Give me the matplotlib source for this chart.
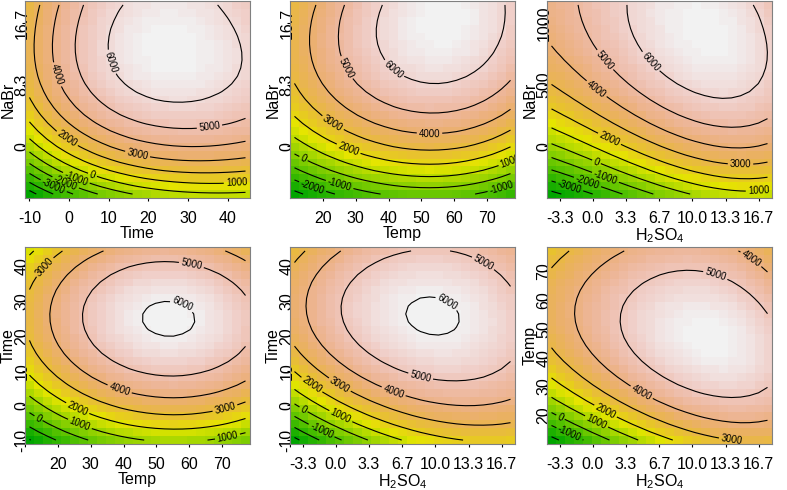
import numpy as np
import matplotlib
matplotlib.use('Agg')
import matplotlib.pyplot as plt
from matplotlib.colors import ListedColormap, hsv_to_rgb

plt.rcParams['font.family'] = 'Liberation Sans'
plt.rcParams['mathtext.fontset'] = 'custom'
plt.rcParams['mathtext.rm'] = 'Liberation Sans'
plt.rcParams['mathtext.it'] = 'Liberation Sans:italic'

# axis ranges of the four factors
time_lim = (-11.1, 45.6)
temp_lim = (10.0, 78.5)
h2so4_lim = (-4.6, 18.0)
nabr_lim = (-7.0, 19.7)
nabr_lim_big = (-420.0, 1180.0)   # third panel uses a different NaBr scale

time_ticks = [-10, 0, 10, 20, 30, 40]
temp_ticks = [20, 30, 40, 50, 60, 70]
h2so4_ticks = [-10/3, 0, 10/3, 20/3, 10, 40/3, 50/3]
h2so4_labels = ['-3.3', '0.0', '3.3', '6.7', '10.0', '13.3', '16.7']
nabr_ticks = [0, 25/3, 50/3]
nabr_labels = ['0', '8.3', '16.7']
nabr_ticks_big = [0, 500, 1000]
nabr_labels_big = ['0', '500', '1000']

tn_time = [29.7, 29.7, 29.7, 29.7, 29.7, 29.7, 29.7, 11.0, 38.2, 3.1, -1.9, -6.5,
           44.5, 44.5, 44.5, 44.5, 44.5, 44.5, 41.0, 10.7,
           -10.0, -10.0, -10.0, -10.0, -10.0, -10.0, -10.0, -10.0,
           15.0, 7.0, 1.4, -3.2, -7.7]
tn_nabr = [6.5, 2.7, 0.0, -1.8, -3.6, -5.2, -6.1, 19.2, 19.2, 19.2, 19.2, 19.2,
           3.4, 0.2, -1.7, -3.4, -4.9, -5.9, 13.0, 14.4,
           10.9, 6.5, 3.6, 1.4, -0.5, -2.3, -3.8, -5.2,
           -6.5, -6.5, -6.5, -6.5, -6.5]
tn_level = [6000, 5000, 4000, 3000, 2000, 1000, 0, 6000, 6000, 5000, 4000, 3000,
            5000, 4000, 3000, 2000, 1000, 0, 6000, 6000,
            3000, 2000, 1000, 0, -1000, -2000, -3000, -4000,
            -1000, -2000, -3000, -4000, -5000]

pn_temp = [36.0, 73.7, 56.6, 76.4, 37.1, 27.8, 54.2, 16.2, 29.5, 11.7, 11.4, 26.9,
           11.4, 54.7, 11.4, 21.9, 11.4, 77.1, 11.4, 38.8, 65.5, 77.1,
           11.4, 25.1, 11.4, 14.1]
pn_nabr = [19.2, 19.2, 9.0, 14.4, 14.4, 19.2, 5.0, 19.2, 4.5, 19.2, 8.1, 1.8,
           4.3, -2.9, 1.4, -1.1, -1.4, -3.4, -2.9, -6.5, -6.5, -5.4,
           -4.5, -6.5, -6.1, -6.5]
pn_level = [6000, 6000, 6000, 6000, 6000, 5000, 5000, 4000, 4000, 3000, 3000, 3000,
            2000, 2000, 1000, 1000, 0, 0, -1000, -1000, -1000, -1000,
            -2000, -2000, -3000, -3000]

hn_h2so4 = [3.3, 16.9, 2.0, 12.5, 17.0, 9.2, 9.5, 6.0, -1.8, 13.2, 17.5, -4.1, 14.2, 17.5,
            -4.1, 15.2, -4.1, 16.2, -3.7, -4.1, -4.1, 5.8, -4.1, 2.4,
            -4.1, 0.6, -4.1, -1.4]
hn_nabr = [1150, 1150, 892, 370, 748, 828, 1150, 1150, 1150, 153, 236, 812, -10, 28,
           534, -148, 358, -270, 124, 28, -106, -388, -215, -388,
           -311, -388, -366, -388]
hn_level = [6000, 6000, 6000, 6000, 6000, 6850, 6350, 6250, 5000, 5000, 5000, 4000, 4000, 4000,
            3000, 3000, 2000, 2000, 1000, 0, -1000, -1000, -2000, -2000,
            -3000, -3000, -4000, -4000]

pt_temp = [53.0, 53.0, 46.9, 58.9, 53.0,
           57.3, 31.6, 44.9, 58.6, 73.9,
           57.1, 29.6, 76.0, 77.1, 21.0,
           28.0, 21.4, 11.4, 11.4, 77.1,
           26.5, 14.8, 11.4, 77.1,
           45.9, 68.2, 11.4, 31.1, 11.4, 23.0, 11.4, 16.9, 11.4]
pt_time = [32.0, 22.4, 27.4, 27.5, 27.4,
           8.2, 25.5, 44.5, 44.5, 23.5,
           1.5, 43.7, 40.3, 11.0, 23.5,
           3.9, 44.5, 23.5, 11.0, -0.3,
           -0.9, 41.1, 4.2, -5.4,
           -10.0, -10.0, -0.3, -10.0, -3.2, -10.0, -6.1, -10.0, -9.0]
pt_level = [6000, 6000, 6000, 6000, 6200,
            5000, 5000, 5000, 5000, 5000,
            4000, 4000, 4000, 4000, 4000,
            3000, 3000, 3000, 3000, 3000,
            2000, 2000, 2000, 2000,
            1000, 1000, 1000, 0, 0, -1000, -1000, -2000, -2000]

ht_h2so4 = [10.9, 10.9, 7.5, 14.4, 4.2, 17.2, 5.6, 10.8, 11.2, 0.3, 14.4,
            -2.9, -4.1, 1.0, -4.1, 15.2, -4.1, 6.7, -4.1, 3.2, -4.1, 0.4, -4.1, -1.9]
ht_time = [31.9, 19.9, 26.9, 25.2, 39.5, 33.7, 44.5, 44.5, 9.3, 44.5, -1.3,
           44.5, 16.0, 5.3, 9.8, -10.0, 4.0, -10.0, -0.3, -10.0, -2.8, -10.0, -5.6, -10.0]
ht_level = [6000, 6000, 6000, 6000, 5000, 5000, 5000, 5000, 5000, 4000, 4000,
            3000, 3000, 3000, 2000, 2000, 1000, 1000, 0, 0, -1000, -1000, -2000, -2000]

hp_h2so4 = [2.7, 9.3, 16.6, 9.0, 17.5, 2.9, 3.5, 13.9, 17.5, 17.5,
            -1.7, -4.1, 16.6, -4.1, 2.0, -4.1, -1.7, -4.1, 1.3, -4.1, -1.0, -3.0, 11.9]
hp_temp = [55.2, 70.0, 60.0, 28.5, 29.9, 78.0, 30.6, 78.0, 70.3, 17.5,
           78.0, 42.2, 11.4, 32.9, 20.7, 26.4, 22.3, 20.7, 11.4, 15.5, 11.4, 11.4, 46.3]
hp_level = [5000, 5000, 5000, 5000, 5000, 4000, 4000, 4000, 4000, 4000,
            3000, 3000, 3000, 2000, 2000, 1000, 1000, 0, 0, -1000, -1000, -2000, 5800]


def terrain_colors(n):
    # same ramp as R's terrain.colors()
    k = n // 2
    h = np.r_[np.linspace(4/12, 2/12, k), np.linspace(2/12, 0, n - k + 1)[1:]]
    s = np.r_[np.ones(k), np.linspace(1, 0, n - k + 1)[1:]]
    v = np.r_[np.linspace(0.65, 0.9, k), np.linspace(0.9, 0.95, n - k + 1)[1:]]
    return ListedColormap(hsv_to_rgb(np.c_[h, s, v]))


cmap = terrain_colors(100)


def fit_surface(xs, ys, zs, xlim, ylim, degree, n=25):
    # polynomial response surface through the read contour points
    xs, ys, zs = np.asarray(xs), np.asarray(ys), np.asarray(zs, float)
    cx, sx = np.mean(xlim), (xlim[1] - xlim[0]) / 2
    cy, sy = np.mean(ylim), (ylim[1] - ylim[0]) / 2

    def design(x, y):
        a, b = (x - cx) / sx, (y - cy) / sy
        cols = [a ** i * b ** j for i in range(degree + 1)
                for j in range(degree + 1 - i)]
        return np.stack(cols, axis=-1)

    coef, *_ = np.linalg.lstsq(design(xs, ys), zs, rcond=None)
    gx = xlim[0] + (np.arange(n) + 0.5) * (xlim[1] - xlim[0]) / n
    gy = ylim[0] + (np.arange(n) + 0.5) * (ylim[1] - ylim[0]) / n
    X, Y = np.meshgrid(gx, gy)
    return gx, gy, design(X, Y) @ coef


panels = [
    (tn_time, tn_nabr, tn_level, time_lim, nabr_lim, 'Time', 'NaBr',
     time_ticks, None, nabr_ticks, nabr_labels, 3),
    (pn_temp, pn_nabr, pn_level, temp_lim, nabr_lim, 'Temp', 'NaBr',
     temp_ticks, None, nabr_ticks, nabr_labels, 3),
    (hn_h2so4, hn_nabr, hn_level, h2so4_lim, nabr_lim_big, r'H$_2$SO$_4$', 'NaBr',
     h2so4_ticks, h2so4_labels, nabr_ticks_big, nabr_labels_big, 3),
    (pt_temp, pt_time, pt_level, temp_lim, time_lim, 'Temp', 'Time',
     temp_ticks, None, time_ticks, None, 2),
    (ht_h2so4, ht_time, ht_level, h2so4_lim, time_lim, r'H$_2$SO$_4$', 'Time',
     h2so4_ticks, h2so4_labels, time_ticks, None, 3),
    (hp_h2so4, hp_temp, hp_level, h2so4_lim, temp_lim, r'H$_2$SO$_4$', 'Temp',
     h2so4_ticks, h2so4_labels, temp_ticks, None, 3),
]

W, H = 787, 490
fig = plt.figure(figsize=(W / 100, H / 100), dpi=100)
lefts = [25, 290, 547]
tops = [1, 247]
aw, ah = 225, 197

for i, (xs, ys, zs, xlim, ylim, xlab, ylab, xt, xtl, yt, ytl, deg) in enumerate(panels):
    left = lefts[i % 3]
    top = tops[i // 3]
    ax = fig.add_axes([left / W, 1 - (top + ah) / H, aw / W, ah / H])
    gx, gy, Z = fit_surface(xs, ys, zs, xlim, ylim, deg)
    ax.imshow(Z, cmap=cmap, vmin=Z.min(), vmax=Z.max(), origin='lower',
              extent=[xlim[0], xlim[1], ylim[0], ylim[1]], aspect='auto',
              interpolation='nearest')
    levels = np.arange(-10000, 10001, 1000)
    cs = ax.contour(gx, gy, Z, levels=levels, colors='black', linewidths=0.8,
                    negative_linestyles='solid')
    ax.clabel(cs, fmt=lambda v: f'{v:.0f}', fontsize=7, inline=True, inline_spacing=2)
    ax.set_xlim(xlim)
    ax.set_ylim(ylim)
    ax.set_xticks(xt)
    ax.set_xticklabels(xtl if xtl is not None else [str(t) for t in xt])
    ax.set_yticks(yt)
    ax.set_yticklabels(ytl if ytl is not None else [str(t) for t in yt],
                       rotation=90, va='center')
    ax.tick_params(axis='x', length=2.2, pad=7.5, labelsize=11.5)
    ax.tick_params(axis='y', length=2.2, pad=-5.5, labelsize=11.5)
    ax.set_xlabel(xlab, fontsize=11.5)
    # the subscripted label needs a little more room below the ticks
    ax.xaxis.set_label_coords(0.5, -0.143 if '$' in xlab else -0.14)
    ax.set_ylabel(ylab, fontsize=11.5)
    ax.yaxis.set_label_coords(-9.5 / aw, 0.5)
    for sp in ax.spines.values():
        sp.set_color('#808080')
        sp.set_linewidth(0.8)

fig.savefig('out.png', dpi=100)
